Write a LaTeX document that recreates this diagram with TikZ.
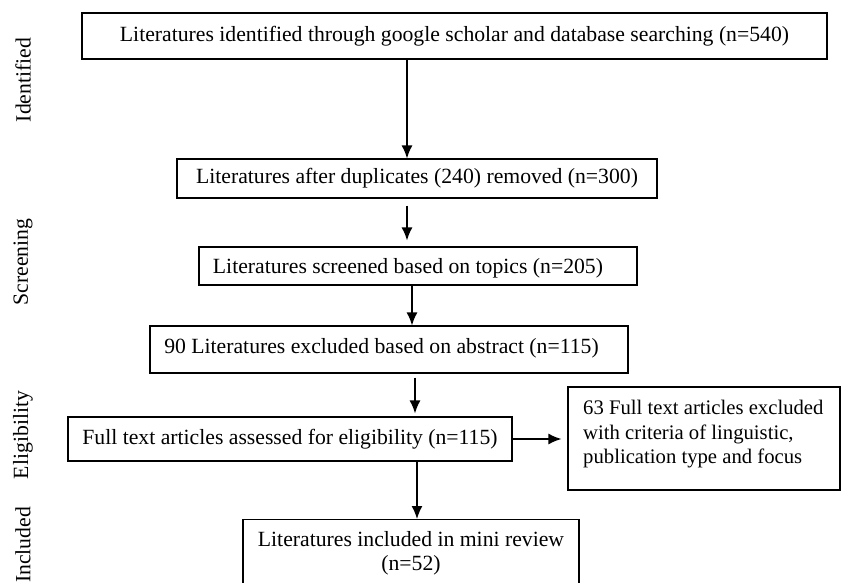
\documentclass[tikz,border=0pt]{standalone}
\usepackage{fontspec}
\setmainfont{Liberation Serif}
\usetikzlibrary{arrows.meta}
\begin{document}
\begin{tikzpicture}[x=1pt,y=-1pt,
  box/.style={draw,line width=1.1pt,inner sep=0pt,align=center,font=\fontsize{21.7}{25.5}\selectfont},
  txt/.style={inner sep=0pt,font=\fontsize{21.7}{24.5}\selectfont},
  arr/.style={line width=1.5pt,-{Latex[length=13pt,width=11pt]}},
  side/.style={rotate=90,font=\fontsize{21.7}{25}\selectfont}]
\useasboundingbox (0,0) rectangle (841,583);
\node[box,minimum width=745pt,minimum height=46pt] (b1) at (454.5,36) {Literatures identified through google scholar and database searching (n=540)};
\node[box,minimum width=480pt,minimum height=39pt] (b2) at (417,178.5) {Literatures after duplicates (240) removed (n=300)};
\node[box,minimum width=438pt,minimum height=38pt] (b3) at (418,266) {};
\node[txt] (t3) at (408,268) {Literatures screened based on topics (n=205)};
\node[box,minimum width=478pt,minimum height=47pt] (b4) at (389,349.5) {};
\node[txt] (t4) at (381.5,348) {90 Literatures excluded based on abstract (n=115)};
\node[box,minimum width=444pt,minimum height=44pt] (b5) at (290,439) {Full text articles assessed for eligibility (n=115)};
\node[box,minimum width=272pt,minimum height=103pt] (b6) at (704,438.5) {};
\node[txt,font=\fontsize{20.7}{24.5}\selectfont,align=left,anchor=north west] (t6) at (583,400) {63 Full text articles excluded\\with criteria of linguistic,\\publication type and focus};
\node[box,minimum width=336pt,minimum height=90pt,anchor=north] (b7) at (411,519) {};
\node[txt,align=center,anchor=north] (t7) at (411,531) {Literatures included in mini review\\(n=52)};
\coordinate (c1) at (407,0);
\coordinate (c3) at (412,0);
\coordinate (c4) at (415,0);
\coordinate (c6) at (417,0);
\draw[arr] (b1.south -| c1) -- (b2.north -| c1);
\draw[arr,shorten <=7pt,shorten >=6pt] (b2.south -| c1) -- (b3.north -| c1);
\draw[arr] (b3.south -| c3) -- (b4.north -| c3);
\draw[arr,shorten <=4pt,shorten >=3pt] (b4.south -| c4) -- (b5.north -| c4);
\draw[arr,shorten >=6pt] (b5.east) -- (b5.east -| b6.west);
\draw[arr] (b5.south -| c6) -- (b7.north -| c6);
\node[side] (s1) at (23,80) {Identified};
\node[side] (s2) at (23,262) {Screening};
\node[side] (s3) at (23,435) {Eligibility};
\node[side] (s4) at (23,545) {Included};
\end{tikzpicture}
\end{document}
